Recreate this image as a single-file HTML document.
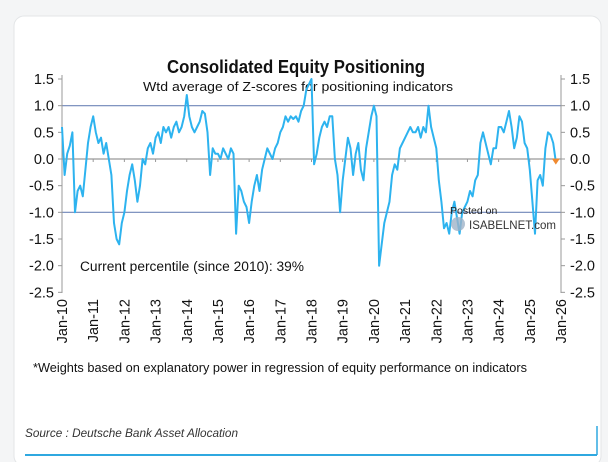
<!DOCTYPE html>
<html><head><meta charset="utf-8"><style>
html,body{margin:0;padding:0;background:#f4f5f6;width:608px;height:462px;overflow:hidden}
svg{display:block;font-family:"Liberation Sans",Arial,sans-serif}
</style></head><body>
<svg id="chart" width="608" height="462" viewBox="0 0 608 462">
<rect x="14" y="16" width="587" height="450" rx="10" fill="#fff" stroke="#e3e5e7"/>
<text x="296" y="73" text-anchor="middle" font-size="18" font-weight="bold" textLength="258" lengthAdjust="spacingAndGlyphs" fill="#111">Consolidated Equity Positioning</text>
<text x="298" y="91" text-anchor="middle" font-size="13" textLength="310" lengthAdjust="spacingAndGlyphs" fill="#111">Wtd average of Z-scores for positioning indicators</text>
<g id="axes"></g>
<g id="series"></g>
<text x="80" y="271" font-size="13.5" textLength="224" lengthAdjust="spacingAndGlyphs" fill="#111">Current percentile (since 2010): 39%</text>
<g>
<text x="450" y="214" font-size="10.5" fill="#222">Posted on</text>
<circle cx="458" cy="224" r="7" fill="#9fb3c8" opacity="0.8"/>
<text x="469" y="229" font-size="11.5" fill="#333">ISABELNET.com</text>
</g>
<text x="33" y="372" font-size="12.5" textLength="494" lengthAdjust="spacingAndGlyphs" fill="#111">*Weights based on explanatory power in regression of equity performance on indicators</text>
<text x="25" y="437" font-size="11.5" font-style="italic" fill="#333" textLength="213" lengthAdjust="spacingAndGlyphs">Source : Deutsche Bank Asset Allocation</text>
<line x1="25" y1="455" x2="597" y2="455" stroke="#2fa8e0" stroke-width="2"/>
<line x1="597" y1="455" x2="597" y2="426" stroke="#2fa8e0" stroke-width="1.5"/>
</svg>
<script>
const yTicks=[1.5,1.0,0.5,0.0,-0.5,-1.0,-1.5,-2.0,-2.5];
const yTickLabels=["1.5","1.0","0.5","0.0","-0.5","-1.0","-1.5","-2.0","-2.5"];
const xYears=[2010,2011,2012,2013,2014,2015,2016,2017,2018,2019,2020,2021,2022,2023,2024,2025,2026];
const xTickLabels=["Jan-10","Jan-11","Jan-12","Jan-13","Jan-14","Jan-15","Jan-16","Jan-17","Jan-18","Jan-19","Jan-20","Jan-21","Jan-22","Jan-23","Jan-24","Jan-25","Jan-26"];
const startYear=2010;
const zValues=[
0.6,-0.3,0.1,0.25,0.5,-1.0,-0.6,-0.5,-0.7,-0.2,0.3,0.6,
0.8,0.5,0.3,0.4,0.1,0.3,0.0,-0.3,-1.2,-1.5,-1.6,-1.2,
-1.0,-0.6,-0.3,-0.1,-0.4,-0.8,-0.5,0.0,-0.1,0.2,0.3,0.1,
0.4,0.5,0.3,0.6,0.5,0.6,0.4,0.6,0.7,0.5,0.6,0.8,
1.2,0.8,0.6,0.5,0.6,0.7,0.9,0.85,0.5,-0.3,0.2,0.1,
0.1,0.0,0.2,0.1,0.0,0.2,0.1,-1.4,-0.5,-0.6,-0.8,-0.9,
-1.2,-0.8,-0.5,-0.3,-0.6,-0.2,0.0,0.2,0.1,0.0,0.2,0.3,
0.5,0.6,0.8,0.7,0.8,0.75,0.8,0.7,0.9,1.0,1.3,1.4,
1.5,-0.1,0.1,0.4,0.6,0.7,0.6,0.8,0.8,0.0,-0.3,-1.0,
-0.4,0.0,0.4,0.2,-0.3,0.1,0.3,-0.2,-0.4,0.2,0.5,0.8,
1.0,0.8,-2.0,-1.6,-1.2,-1.0,-0.8,-0.3,-0.1,-0.2,0.2,0.3,
0.4,0.5,0.6,0.5,0.5,0.6,0.4,0.6,0.5,1.0,0.6,0.4,
0.2,-0.4,-0.8,-1.3,-1.2,-1.4,-1.0,-0.8,-1.1,-1.4,-1.0,-0.9,
-0.8,-0.6,-0.7,-0.4,-0.3,0.3,0.5,0.3,0.1,-0.1,0.2,0.2,
0.6,0.6,0.5,0.7,0.9,0.6,0.2,0.4,0.8,0.7,0.3,0.2,
-0.2,-0.8,-1.4,-0.4,-0.3,-0.5,0.2,0.5,0.45,0.3,-0.05
];
const NS="http://www.w3.org/2000/svg";
const X0=62,X1=561,YTOP=79,YBOT=293;
function xScale(yr){return X0+(yr-2010)*(X1-X0)/16;}
function yScale(v){return 159-v*(159-YTOP)/1.5;}
function mk(tag,attrs,parent){const e=document.createElementNS(NS,tag);for(const k in attrs)e.setAttribute(k,attrs[k]);parent.appendChild(e);return e;}
const axes=document.getElementById('axes');
const ser=document.getElementById('series');
[1,-1].forEach(v=>{
const g=mk('line',{x1:X0,x2:X1,y1:yScale(v),y2:yScale(v),stroke:'#6f86b8','stroke-width':1.2},axes);


});
const zl=mk('line',{x1:X0,x2:X1,y1:yScale(0),y2:yScale(0),stroke:'#999','stroke-width':1.2},axes);


const la=mk('line',{x1:X0,x2:X0,y1:YTOP-4,y2:YBOT,stroke:'#999'},axes);


const ra=mk('line',{x1:X1,x2:X1,y1:YTOP-4,y2:YBOT,stroke:'#999'},axes);


yTicks.forEach((v,i)=>{
const y=yScale(v);
mk('line',{x1:X0-4,x2:X0,y1:y,y2:y,stroke:'#999'},axes);
mk('line',{x1:X1,x2:X1+4,y1:y,y2:y,stroke:'#999'},axes);
const t=mk('text',{x:X0-8,y:y+5,'text-anchor':'end','font-size':14.5,fill:'#111'},axes);
t.textContent=yTickLabels[i];


const t2=mk('text',{x:X1+9,y:y+5,'font-size':14.5,fill:'#111'},axes);
t2.textContent=yTickLabels[i];


});
xYears.forEach((yr,i)=>{
const x=xScale(yr);
mk('line',{x1:x,x2:x,y1:yScale(0),y2:yScale(0)+3,stroke:'#999'},axes);
const t=mk('text',{x:0,y:0,'text-anchor':'end','font-size':14.5,fill:'#111',transform:`translate(${x+5},${YBOT+6}) rotate(-90)`},axes);
t.textContent=xTickLabels[i];


});
const pts=zValues.map((v,i)=>xScale(startYear+i/12).toFixed(1)+','+yScale(v).toFixed(1)).join(' ');
const pl=mk('polyline',{points:pts,fill:'none',stroke:'#2db3ef','stroke-width':2,'stroke-linejoin':'round'},ser);


const li=zValues.length-1;
const dot=mk('path',{d:`M${xScale(startYear+li/12)-4},${yScale(zValues[li])-3} l8,0 l-4,6 z`,fill:'#f08a30'},ser);


</script>
</body></html>
